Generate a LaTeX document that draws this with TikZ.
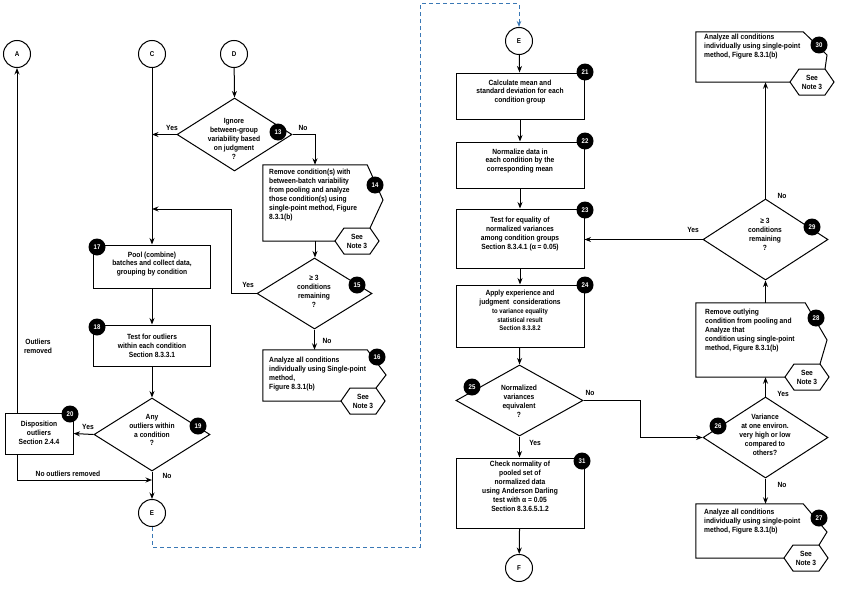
\documentclass[tikz,border=0pt]{standalone}
\usepackage{fontspec}
\newfontfamily\nf{Liberation Sans}[FakeStretch=0.89]
\usetikzlibrary{arrows.meta,calc,shapes.geometric,fit}
\definecolor{dblue}{HTML}{3A78B5}
\newcommand{\fs}{\nf\bfseries\fontsize{7.5}{8.9}\selectfont}
\newcommand{\fss}{\nf\bfseries\fontsize{6.7}{8.6}\selectfont}
\tikzset{
 ln/.style={line width=1pt, draw=black},
 arr/.style={ln, -{Stealth[length=6.5pt,width=5pt]}},
 pbox/.style={draw, line width=1pt, rectangle, inner sep=0pt},
 dia/.style={draw, line width=1pt, diamond, inner sep=0pt},
 conn/.style={draw, line width=1pt, circle, minimum size=27pt, inner sep=0pt, font=\nf\bfseries\fontsize{7}{7}\selectfont},
 badge/.style={circle, fill=black, minimum size=17pt, inner sep=0pt, text=white, font=\nf\bfseries\fontsize{6.8}{7}\selectfont},
 txt/.style={align=center, inner sep=0pt, font=\fs},
 ltxt/.style={align=left, inner sep=0pt, anchor=north west, font=\fs},
 lab/.style={inner sep=0pt, font=\fs},
 notetxt/.style={align=center, inner sep=0pt, font=\fs},
}
\newcommand{\mynbox}[8]{%
 \coordinate (#1-a) at (#2,#3);
 \coordinate (#1-b) at (#4,#5);
 \node[fit=(#1-a)(#1-b), inner sep=0pt] (#1) {};
 \coordinate (#1-n) at (#8,#5);
 \draw[ln, line join=miter] ($(#1-n)+(-22,0)$) -- (#1.south west) -- (#1.north west) -- (#1.north east) -- (#6,#7) -- ($(#1-n)+(13,-13)$);
 \draw[ln, fill=white] ($(#1-n)+(-22,0)$) -- ($(#1-n)+(-13,-13)$) -- ($(#1-n)+(13,-13)$) -- ($(#1-n)+(22,0)$) -- ($(#1-n)+(13,13)$) -- ($(#1-n)+(-13,13)$) -- cycle;
 \node[notetxt] at (#1-n) {See\\Note 3};
}
\begin{document}
\begin{tikzpicture}[x=1pt,y=-1pt]
\fill[white] (0,0) rectangle (842,594);
\useasboundingbox (0,0) rectangle (842,594);

% ---------- connectors (circles)
\node[conn] (A) at (17,54) {A};
\node[conn] (C) at (152,54) {C};
\node[conn] (D) at (234,54) {D};
\node[conn] (E1) at (152,513) {E};
\node[conn] (E2) at (519,41) {E};
\node[conn] (F) at (519,568) {F};

% ---------- left part
\node[dia, minimum width=115, minimum height=73] (d13) at (234.5,134.5) {};
\node[txt] at (234,139) {Ignore\\between-group\\variability based\\on judgment\\?};
\node[badge] at (278,132) {13};

\mynbox{b14}{263}{165}{367}{241}{383}{200}{357}
\node[ltxt] at (269,169) {Remove condition(s) with\\between-batch variability\\from pooling and analyze\\those condition(s) using\\single-point method, Figure\\8.3.1(b)};
\node[badge] at (375,185) {14};

\node[dia, minimum width=115, minimum height=71] (d15) at (314.5,293.5) {};
\node[txt] at (314,291.5) {≥ 3\\conditions\\remaining\\?};
\node[badge] at (357,285) {15};

\mynbox{b16}{263}{350}{367}{401}{386}{375}{363}
\node[ltxt] at (269,357) {Analyze all conditions\\individually using Single-point\\method,\\Figure 8.3.1(b)};
\node[badge] at (377,357) {16};

\node[pbox, minimum width=117, minimum height=43] (b17) at (152,266.5) {};
\node[txt] at (152,264) {Pool (combine)\\batches and collect data,\\grouping by condition};
\node[badge] at (97,247) {17};

\node[pbox, minimum width=117, minimum height=41] (b18) at (152,345.5) {};
\node[txt] at (152,345.5) {Test for outliers\\within each condition\\Section 8.3.3.1};
\node[badge] at (97,327) {18};

\node[dia, minimum width=116, minimum height=73] (d19) at (152,434.5) {};
\node[txt] at (152,430) {Any\\outliers within\\a condition\\?};
\node[badge] at (198,426) {19};

\node[pbox, minimum width=68, minimum height=41] (b20) at (39,433.5) {};
\node[txt] at (39,432.5) {Disposition\\outliers\\Section 2.4.4};
\node[badge] at (70,414) {20};

\coordinate (j13) at (152,134.5);
\coordinate (j15) at (152,209);
\coordinate (jE) at (152,480);

\draw[arr] (D) -- (d13.north);
\draw[arr] (d13.west) -- (j13);
\node[lab] at (172,128) {Yes};
\draw[arr] (d13.east) -| (b14.north);
\node[lab] at (303,128) {No};
\draw[arr] (b14.south) -- (b14.south |- d15.north);
\draw[arr] (d15.west) -| ($(j15)+(79,0)$) -- (j15);
\node[lab] at (248,285) {Yes};
\draw[arr] (d15.south) -- (d15.south |- b16.north);
\node[lab] at (327,341) {No};
\draw[arr] (C) -- (b17.north);
\draw[arr] (b17) -- (b18);
\draw[arr] (b18) -- (d19.north);
\draw[arr] (d19.west) -- (b20.east);
\node[lab] at (88,427) {Yes};
\draw[arr] (d19.south) -- (E1);
\node[lab] at (167,476) {No};
\draw[arr] (A |- b20.north) -- (A);
\node[txt] at (38,346) {Outliers\\removed};
\draw[arr] (A |- b20.south) |- (jE);
\node[lab] at (68,474) {No outliers removed};

% dashed off-page link
\draw[line width=1pt, dblue, dash pattern=on 4pt off 3pt, -{Stealth[length=6pt,width=4.5pt]}] (E1.south) -- (152,547) -| (420,4) -| (E2.north);

% ---------- middle right column
\node[pbox, minimum width=128, minimum height=46] (b21) at (520,96) {};
\node[txt] at (520,92) {Calculate mean and\\standard deviation for each\\condition group};
\node[badge] at (585,72) {21};

\node[pbox, minimum width=128, minimum height=46] (b22) at (520,165) {};
\node[txt] at (520,161) {Normalize data in\\each condition by the\\corresponding mean};
\node[badge] at (585,141) {22};

\node[pbox, minimum width=128, minimum height=59] (b23) at (520,238.5) {};
\node[txt] at (520,234) {Test for equality of\\normalized variances\\among condition groups\\Section 8.3.4.1 (α = 0.05)};
\node[badge] at (585,210) {23};

\node[pbox, minimum width=128, minimum height=62] (b24) at (520,316) {};
\node[txt] at (520,310.5) {Apply experience and\\judgment\ \ considerations\\{\fss to variance equality}\\{\fss statistical result}\\{\fss Section 8.3.8.2}};
\node[badge] at (585,285) {24};

\node[dia, minimum width=127, minimum height=71] (d25) at (519.5,400.5) {};
\node[txt] at (519,401) {Normalized\\variances\\equivalent\\?};
\node[badge] at (472,387) {25};

\node[pbox, minimum width=128, minimum height=70] (b31) at (520,493) {};
\node[txt] at (520,486.5) {Check normality of\\pooled set of\\normalized data\\using Anderson Darling\\test with α = 0.05\\Section 8.3.6.5.1.2};
\node[badge] at (582,461) {31};

% ---------- far right column
\mynbox{b30}{696}{32}{803}{82}{827}{55}{812}
\node[ltxt] at (704,34) {Analyze all conditions\\individually using single-point\\method, Figure 8.3.1(b)};
\node[badge] at (819,45) {30};

\node[dia, minimum width=125, minimum height=81] (d29) at (765.5,239.5) {};
\node[txt] at (765,234.5) {≥ 3\\conditions\\remaining\\?};
\node[badge] at (812,227) {29};

\mynbox{b28}{696}{303}{805}{377}{827}{340}{807}
\node[ltxt] at (705,309) {Remove outlying\\condition from pooling and\\Analyze that\\condition using single-point\\method, Figure 8.3.1(b)};
\node[badge] at (816,318) {28};

\node[dia, minimum width=125, minimum height=81] (d26) at (765.5,437.5) {};
\node[txt] at (765,435) {Variance\\at one environ.\\very high or low\\compared to\\others?};
\node[badge] at (718,426) {26};

\mynbox{b27}{696}{504}{803}{558}{827}{532}{806}
\node[ltxt] at (704,509) {Analyze all conditions\\individually using single-point\\method, Figure 8.3.1(b)};
\node[badge] at (819,518) {27};

% connectors right
\draw[arr] (E2) -- (b21);
\draw[arr] (b21) -- (b22);
\draw[arr] (b22) -- (b23);
\draw[arr] (b23) -- (b24);
\draw[arr] (b24) -- (d25.north);
\draw[arr] (d25.east) -- ++(57,0) |- (d26.west);
\node[lab] at (590,393) {No};
\draw[arr] (d25.south) -- (d25.south |- b31.north);
\node[lab] at (535,443) {Yes};
\draw[arr] (b31) -- (F);
\draw[arr] (d26.north) -- (d26.north |- b28.south);
\node[lab] at (783,394) {Yes};
\draw[arr] (d26.south) -- (d26.south |- b27.north);
\node[lab] at (782,485) {No};
\draw[arr] (d29.south |- b28.north) -- (d29.south);
\draw[arr] (d29.north) -- (d29.north |- b30.south);
\node[lab] at (782,196) {No};
\draw[arr] (d29.west) -- (d29.west -| b23.east);
\node[lab] at (693,230) {Yes};
\end{tikzpicture}
\end{document}
